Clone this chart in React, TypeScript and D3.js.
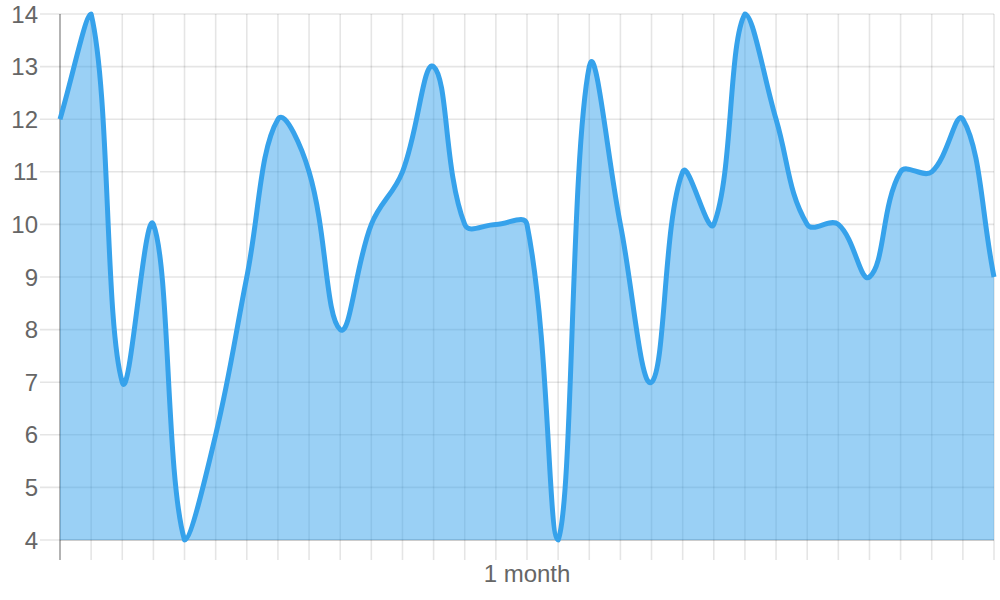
import { useEffect, useRef } from 'react'
import * as d3 from 'd3'

// one value per day, the axis only labels the middle day
const values = [12, 14, 7, 10, 4, 6, 9, 12, 11, 8, 10, 11, 13, 10, 10, 10, 4, 13, 10, 7, 11, 10, 14, 12, 10, 10, 9, 11, 11, 12, 9]
const xLabels = values.map((_, i) => (i === 15 ? '1 month' : ''))
const yTicks = [4, 5, 6, 7, 8, 9, 10, 11, 12, 13, 14]

type Pt = { x: number; y: number; cpPrevX?: number; cpPrevY?: number; cpNextX?: number; cpNextY?: number }

// chart.js-style spline (tension 0.4) with control points capped to the area
function splinePoints(pts: Pt[], t: number, area: { left: number; right: number; top: number; bottom: number }) {
  const clampX = (v: number) => Math.max(area.left, Math.min(area.right, v))
  const clampY = (v: number) => Math.max(area.top, Math.min(area.bottom, v))
  pts.forEach((cur, i) => {
    const prev = pts[i - 1] || cur
    const next = pts[i + 1] || cur
    const d01 = Math.hypot(cur.x - prev.x, cur.y - prev.y)
    const d12 = Math.hypot(next.x - cur.x, next.y - cur.y)
    let s01 = d01 / (d01 + d12)
    let s12 = d12 / (d01 + d12)
    if (isNaN(s01)) s01 = 0
    if (isNaN(s12)) s12 = 0
    const fa = t * s01
    const fb = t * s12
    cur.cpPrevX = clampX(cur.x - fa * (next.x - prev.x))
    cur.cpPrevY = clampY(cur.y - fa * (next.y - prev.y))
    cur.cpNextX = clampX(cur.x + fb * (next.x - prev.x))
    cur.cpNextY = clampY(cur.y + fb * (next.y - prev.y))
  })
  return pts
}

export default function App() {
  const ref = useRef<SVGSVGElement>(null)

  useEffect(() => {
    if (!ref.current) return
    const width = 1000
    const height = 600
    const area = { left: 60, right: 994, top: 14, bottom: 540 }
    const font = 'Liberation Sans, Arial, sans-serif'

    const svg = d3.select(ref.current)
    svg.selectAll('*').remove()

    const x = d3.scaleLinear().domain([0, values.length - 1]).range([area.left, area.right])
    const y = d3.scaleLinear().domain([4, 14]).range([area.bottom, area.top])

    const grid = svg.append('g')
    // horizontal grid + left ticks
    grid.selectAll('line.h')
      .data(yTicks)
      .join('line')
      .attr('x1', area.left - 20).attr('x2', area.right)
      .attr('y1', (d) => y(d)).attr('y2', (d) => y(d))
      .attr('stroke', 'rgba(0,0,0,0.1)').attr('stroke-width', 1.6)
    // vertical grid + bottom ticks
    grid.selectAll('line.v')
      .data(values.map((_, i) => i))
      .join('line')
      .attr('x1', (d) => x(d)).attr('x2', (d) => x(d))
      .attr('y1', area.top).attr('y2', area.bottom + 20)
      .attr('stroke', 'rgba(0,0,0,0.1)').attr('stroke-width', 1.6)

    // axis borders
    svg.append('line')
      .attr('x1', area.left).attr('x2', area.left)
      .attr('y1', area.top).attr('y2', area.bottom + 20)
      .attr('stroke', 'rgba(0,0,0,0.3)').attr('stroke-width', 1.6)
    svg.append('line')
      .attr('x1', area.left).attr('x2', area.right)
      .attr('y1', area.bottom).attr('y2', area.bottom)
      .attr('stroke', 'rgba(0,0,0,0.18)').attr('stroke-width', 1.6)

    const pts = splinePoints(values.map((v, i) => ({ x: x(i), y: y(v) })), 0.4, area)
    const curve = (p: d3.Path) => {
      p.moveTo(pts[0].x, pts[0].y)
      for (let i = 1; i < pts.length; i++) {
        const a = pts[i - 1]
        const b = pts[i]
        p.bezierCurveTo(a.cpNextX!, a.cpNextY!, b.cpPrevX!, b.cpPrevY!, b.x, b.y)
      }
      return p
    }
    const line = curve(d3.path())
    const fill = curve(d3.path())
    fill.lineTo(pts[pts.length - 1].x, area.bottom)
    fill.lineTo(pts[0].x, area.bottom)
    fill.closePath()

    svg.append('defs').append('clipPath').attr('id', 'area-clip')
      .append('rect')
      .attr('x', area.left - 3).attr('y', area.top - 3)
      .attr('width', area.right - area.left + 6).attr('height', area.bottom - area.top + 6)

    const g = svg.append('g').attr('clip-path', 'url(#area-clip)')
    g.append('path').attr('d', fill.toString()).attr('fill', 'rgba(54,162,235,0.5)')
    g.append('path').attr('d', line.toString())
      .attr('fill', 'none').attr('stroke', '#36A2EB').attr('stroke-width', 5)
      .attr('stroke-linejoin', 'round')

    // y tick labels
    svg.append('g').selectAll('text')
      .data(yTicks)
      .join('text')
      .attr('x', area.left - 22).attr('y', (d) => y(d))
      .attr('dy', '0.36em')
      .attr('text-anchor', 'end')
      .attr('fill', '#666').attr('font-size', '24px').attr('font-family', font)
      .text((d) => d)

    // x labels
    svg.append('g').selectAll('text')
      .data(xLabels.map((l, i) => ({ l, i })).filter((d) => d.l))
      .join('text')
      .attr('x', (d) => x(d.i)).attr('y', 582)
      .attr('text-anchor', 'middle')
      .attr('fill', '#666').attr('font-size', '24px').attr('font-family', font)
      .text((d) => d.l)

    svg.attr('width', width).attr('height', height)
  }, [])

  return (
    <div style={{ position: 'fixed', left: 0, top: 0, width: 1000, height: 600, background: '#fff' }}>
      <svg ref={ref} style={{ display: 'block' }} />
    </div>
  )
}
